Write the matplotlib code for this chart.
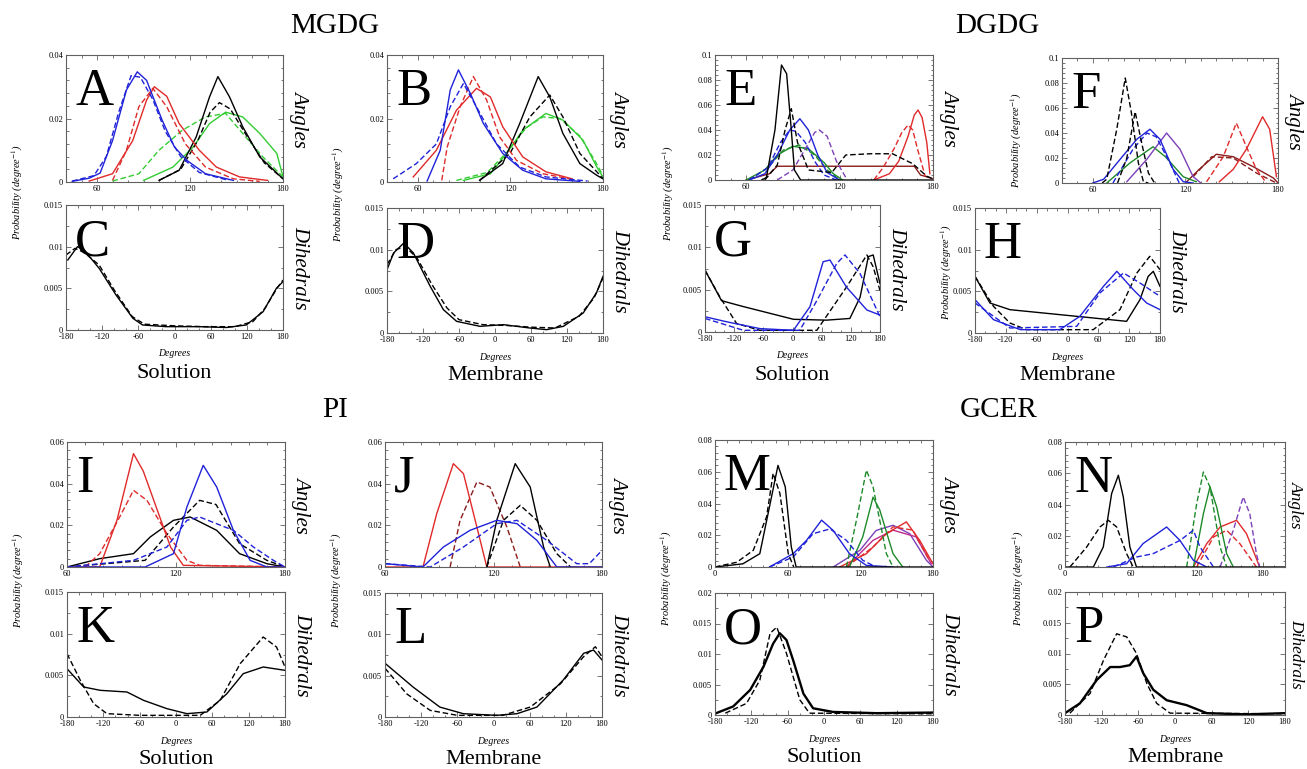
"""
Angle / dihedral probability distributions (MGDG, DGDG, PI, GCER),
solution vs membrane, 16 panels in xmgrace style.
"""
import matplotlib
matplotlib.use("Agg")
import matplotlib.pyplot as plt
from matplotlib.ticker import MultipleLocator, AutoMinorLocator, FuncFormatter

plt.rcParams["font.family"] = ["Liberation Serif", "DejaVu Serif"]
plt.rcParams["mathtext.fontset"] = "stix"

W, H = 1307, 769

BLUE = "#1f22d8"
RED = "#e02a2a"
GREEN = "#33cc33"
DKGREEN = "#1d8a2a"
PURPLE = "#7d40b8"
BROWN = "#8a1c1c"
MAGENTA = "#c02a8a"
BLACK = "black"

# ---------------- data ----------------
# MGDG solution, angles (A)
a_blue_x = [44, 55, 62, 70, 79, 86, 92, 102, 110, 118, 130, 148]
a_blue_y = [0.0002, 0.0012, 0.0028, 0.013, 0.029, 0.0347, 0.032, 0.0195, 0.011, 0.0068, 0.0026, 0.0005]
a_blue_dash_x = [44, 58, 66, 74, 82, 88, 96, 104, 114, 126, 145]
a_blue_dash_y = [0.0003, 0.002, 0.008, 0.022, 0.0335, 0.033, 0.026, 0.016, 0.008, 0.003, 0.0005]
a_red_x = [55, 70, 83, 92, 97, 105, 113, 126, 137, 152, 170]
a_red_y = [0.0003, 0.0026, 0.013, 0.0258, 0.030, 0.027, 0.0184, 0.010, 0.0047, 0.0016, 0.0005]
a_red_dash_x = [70, 79, 87, 96, 105, 117, 130, 148, 165]
a_red_dash_y = [0.0005, 0.010, 0.0237, 0.0295, 0.0237, 0.012, 0.0047, 0.001, 0.0002]
a_black_x = [100, 113, 124, 132.6, 138, 145.5, 154, 165, 180]
a_black_y = [0.0005, 0.0037, 0.0142, 0.0268, 0.0332, 0.0268, 0.0174, 0.0079, 0.001]
a_black_dash_x = [100, 114, 125, 133, 139, 146, 156, 168, 180]
a_black_dash_y = [0.0005, 0.004, 0.013, 0.022, 0.025, 0.023, 0.015, 0.006, 0.001]
a_green_x = [90, 109, 122, 132.6, 143, 154, 165, 176, 180]
a_green_y = [0.0005, 0.0047, 0.011, 0.0184, 0.022, 0.0205, 0.0153, 0.009, 0.0016]
a_green_dash_x = [70, 87, 100, 115, 130, 143, 154, 167, 180]
a_green_dash_y = [0.0003, 0.0026, 0.010, 0.0163, 0.0205, 0.0216, 0.0153, 0.0079, 0.0016]

# MGDG membrane, angles (B)
b_blue_x = [66, 74.5, 81, 86.3, 94, 102.5, 115, 128, 143, 165]
b_blue_y = [0.0003, 0.010, 0.029, 0.0353, 0.0279, 0.0184, 0.009, 0.0037, 0.001, 0.0002]
b_blue_dash_x = [44, 59, 72, 81, 89.5, 98, 111, 126, 143, 170]
b_blue_dash_y = [0.001, 0.0058, 0.012, 0.0237, 0.031, 0.0237, 0.012, 0.0047, 0.0016, 0.0003]
b_red_x = [57, 72, 85, 98, 107, 115, 128, 143, 160]
b_red_y = [0.0016, 0.010, 0.0226, 0.0295, 0.0268, 0.0174, 0.0079, 0.0032, 0.001]
b_red_dash_x = [75.5, 79, 87.4, 96, 104.6, 113, 124, 141, 158.5]
b_red_dash_y = [0.0005, 0.011, 0.0237, 0.0332, 0.0258, 0.0142, 0.0068, 0.0026, 0.001]
b_black_x = [100, 115, 126, 138, 145.5, 154, 165, 176, 180]
b_black_y = [0.0005, 0.0058, 0.0184, 0.0332, 0.0268, 0.0153, 0.0058, 0.0021, 0.001]
b_black_dash_x = [100, 119.7, 132.6, 145.5, 154, 165, 176, 180]
b_black_dash_y = [0.0005, 0.009, 0.0205, 0.0274, 0.0205, 0.009, 0.0032, 0.001]
b_green_x = [89.5, 107, 117.5, 128, 143, 154, 167, 176, 180]
b_green_y = [0.0005, 0.0026, 0.009, 0.0163, 0.0216, 0.0195, 0.0132, 0.0047, 0.0015]
b_green_dash_x = [85, 105, 118, 130, 141, 152, 165, 175, 180]
b_green_dash_y = [0.0005, 0.003, 0.0095, 0.017, 0.0205, 0.020, 0.0145, 0.0065, 0.002]

# MGDG dihedrals (C, D)
c_black_x = [-177, -161, -150, -125, -97, -69, -53, -14, 41, 86, 119, 147, 169, 180]
c_black_y = [0.0084, 0.0100, 0.0096, 0.0074, 0.0042, 0.0014, 0.0006, 0.0004, 0.0004, 0.0003, 0.0006, 0.0022, 0.0050, 0.0058]
c_black_dash_x = [-180, -165, -150, -125, -100, -70, -50, 0, 50, 100, 130, 150, 170, 180]
c_black_dash_y = [0.0090, 0.0098, 0.0093, 0.0078, 0.0048, 0.0016, 0.0007, 0.0005, 0.0004, 0.0004, 0.0010, 0.0026, 0.0050, 0.0060]
d_black_x = [-180, -169, -152, -136, -108, -86, -64, -25, 14, 58, 86, 114, 147, 169, 180]
d_black_y = [0.0076, 0.0096, 0.0108, 0.0096, 0.0056, 0.0028, 0.0014, 0.0008, 0.0010, 0.0006, 0.0004, 0.0008, 0.0024, 0.0048, 0.0068]
d_black_dash_x = [-180, -165, -150, -130, -105, -80, -60, -20, 20, 60, 100, 140, 165, 180]
d_black_dash_y = [0.0082, 0.0100, 0.0104, 0.0090, 0.0058, 0.0030, 0.0016, 0.0010, 0.0009, 0.0007, 0.0006, 0.0020, 0.0042, 0.0066]

# DGDG solution, angles (E)
e_black_x = [70, 73, 78.5, 82.7, 86, 89, 91, 95, 180]
e_black_y = [0, 0.002, 0.04, 0.092, 0.085, 0.04, 0.008, 0, 0]
e_black_dash_x = [72, 80, 85, 89, 93, 100, 115, 124, 140, 154, 167, 176, 180]
e_black_dash_y = [0, 0.012, 0.04, 0.057, 0.03, 0.008, 0.006, 0.02, 0.021, 0.021, 0.013, 0.003, 0.001]
e_brown_x = [60, 75, 80, 100, 140, 168, 172, 180]
e_brown_y = [0, 0.005, 0.011, 0.011, 0.011, 0.011, 0.004, 0.001]
e_blue_x = [62, 72, 80, 88, 94.5, 100, 106, 112, 120]
e_blue_y = [0, 0.005, 0.02, 0.04, 0.049, 0.04, 0.02, 0.006, 0]
e_blue_dash_x = [62, 74, 82, 88, 92, 98, 104, 110, 118]
e_blue_dash_y = [0, 0.01, 0.03, 0.04, 0.039, 0.03, 0.015, 0.004, 0]
e_green_x = [60, 72, 80, 90, 100, 110, 116, 122]
e_green_y = [0, 0.008, 0.02, 0.027, 0.025, 0.014, 0.005, 0]
e_green_dash_x = [62, 74, 84, 94, 104, 112, 120]
e_green_dash_y = [0, 0.01, 0.024, 0.028, 0.02, 0.008, 0]
e_purple_x = [80, 90, 98, 104, 107, 112, 118, 124]
e_purple_y = [0, 0.008, 0.025, 0.038, 0.040, 0.035, 0.015, 0.002]
e_red_x = [142, 152, 158, 164, 168, 170.4, 173, 176, 178]
e_red_y = [0, 0.005, 0.015, 0.035, 0.052, 0.056, 0.05, 0.03, 0.005]
e_red_dash_x = [142, 148, 155, 160, 164, 167, 170, 175]
e_red_dash_y = [0, 0.01, 0.025, 0.038, 0.044, 0.04, 0.025, 0.003]

# DGDG membrane, angles (F)
f_black_dash_x = [66, 69, 75.5, 81, 85, 89.5, 92.8, 96]
f_black_dash_y = [0, 0.003, 0.043, 0.084, 0.056, 0.016, 0.001, 0]
f_black2_dash_x = [76, 82, 87.4, 92, 96, 100]
f_black2_dash_y = [0, 0.02, 0.057, 0.03, 0.008, 0]
f_blue_x = [60, 67, 77.7, 88.5, 97, 103.5, 112, 118.6, 125]
f_blue_y = [0, 0.003, 0.019, 0.035, 0.043, 0.035, 0.011, 0.001, 0]
f_blue_dash_x = [73, 86, 95, 101, 110, 116]
f_blue_dash_y = [0, 0.027, 0.040, 0.037, 0.016, 0]
f_purple_x = [82, 95, 107.8, 116.5, 125, 130]
f_purple_y = [0.001, 0.019, 0.040, 0.027, 0.005, 0]
f_green_x = [69, 84, 99, 107, 118.6, 127]
f_green_y = [0, 0.016, 0.029, 0.021, 0.005, 0.001]
f_brown_x = [120.8, 129, 140, 151, 164, 177, 180]
f_brown_y = [0.001, 0.011, 0.023, 0.021, 0.013, 0.004, 0]
f_brown_dash_x = [125, 137, 151, 166, 179]
f_brown_dash_y = [0.005, 0.021, 0.020, 0.008, 0]
f_red_x = [142, 151, 159.5, 170, 174.6, 179]
f_red_y = [0.001, 0.011, 0.027, 0.053, 0.043, 0.005]
f_red_dash_x = [133.7, 144.5, 153, 159.5, 166, 172.5]
f_red_dash_y = [0.001, 0.021, 0.048, 0.029, 0.011, 0]

# DGDG dihedrals (G, H)
g_black_x = [-180, -146, -101, -46, 2, 70, 118, 139, 156, 166, 180]
g_black_y = [0.0073, 0.0037, 0.0030, 0.0022, 0.0015, 0.0014, 0.0016, 0.0041, 0.0089, 0.0091, 0.0057]
g_black_dash_x = [-180, -149, -115, -67, 50, 111, 153, 166, 180]
g_black_dash_y = [0.0073, 0.0041, 0.0010, 0.0002, 0.0002, 0.0053, 0.0091, 0.0077, 0.0049]
g_blue_x = [-180, -135, -67, 2, 36, 63, 77, 111, 153, 180]
g_blue_y = [0.0018, 0.0012, 0.0004, 0.0002, 0.0030, 0.0083, 0.0085, 0.0053, 0.0026, 0.0020]
g_blue_dash_x = [-180, -101, 15, 50, 91, 108, 139, 180]
g_blue_dash_y = [0.0016, 0.0002, 0.0002, 0.0037, 0.0081, 0.0091, 0.0069, 0.0018]
h_black_x = [-180, -151, -112, -47, 18, 83, 115, 141, 157, 167, 180]
h_black_y = [0.0068, 0.0036, 0.0028, 0.0024, 0.0020, 0.0016, 0.0014, 0.0040, 0.0068, 0.0074, 0.0056]
h_black_dash_x = [-180, -144, -112, -80, 50, 102, 135, 160, 180]
h_black_dash_y = [0.0068, 0.0032, 0.0012, 0.0004, 0.0004, 0.0028, 0.0072, 0.0092, 0.0076]
h_blue_x = [-180, -144, -92, -15, 24, 70, 96, 128, 154, 180]
h_blue_y = [0.0040, 0.0016, 0.0004, 0.0004, 0.0020, 0.0056, 0.0074, 0.0052, 0.0036, 0.0028]
h_blue_dash_x = [-180, -112, 18, 63, 109, 141, 180]
h_blue_dash_y = [0.0036, 0.0006, 0.0008, 0.0048, 0.0072, 0.0060, 0.0044]

# PI angles (I, J)
i_red_x = [60, 78, 87.5, 96.6, 102, 109, 117, 124, 180]
i_red_y = [0, 0, 0.0224, 0.0544, 0.046, 0.029, 0.0096, 0.0008, 0]
i_red_dash_x = [70, 78, 89, 96.6, 104, 115, 126, 133, 180]
i_red_dash_y = [0, 0.0064, 0.024, 0.0368, 0.032, 0.016, 0.0032, 0.0008, 0]
i_blue_x = [60, 103, 118.6, 126, 135, 142.4, 151.6, 160.8, 170, 180]
i_blue_y = [0, 0, 0.0064, 0.0288, 0.0488, 0.0384, 0.0176, 0.0032, 0, 0]
i_blue_dash_x = [60, 96.6, 115, 126, 133, 151.6, 162.6, 173.6, 180]
i_blue_dash_y = [0, 0.0032, 0.0096, 0.0224, 0.024, 0.0176, 0.0096, 0.0032, 0]
i_black_x = [60, 78, 96.6, 105.8, 118.6, 127.8, 142.4, 155, 170, 180]
i_black_y = [0, 0.004, 0.0064, 0.0144, 0.0224, 0.024, 0.0176, 0.0064, 0.0016, 0]
i_black_dash_x = [60, 103, 118.6, 133, 142, 155, 170, 180]
i_black_dash_y = [0, 0.0032, 0.0192, 0.032, 0.030, 0.0112, 0.0032, 0]
j_red_x = [60, 81, 88.6, 97.8, 103.4, 110.8, 116.3, 180]
j_red_y = [0, 0, 0.0256, 0.0496, 0.0448, 0.0192, 0, 0]
j_brown_dash_x = [96, 101.5, 110.8, 118, 127.4, 134.8]
j_brown_dash_y = [0, 0.0224, 0.0408, 0.0384, 0.0192, 0]
j_black_x = [116.3, 121.8, 132, 140.3, 147.7, 151.4]
j_black_y = [0, 0.0224, 0.0496, 0.0384, 0.0096, 0]
j_black_dash_x = [116.3, 125.5, 134.8, 144, 155, 162.6]
j_black_dash_y = [0, 0.0224, 0.0296, 0.0224, 0.0064, 0]
j_blue_x = [60, 81, 92.3, 107, 121.8, 133, 144, 155, 180]
j_blue_y = [0.0016, 0, 0.0096, 0.0176, 0.0224, 0.0208, 0.0128, 0, 0]
j_blue_dash_x = [60, 85, 103.4, 121.8, 133, 149.5, 166, 173, 180]
j_blue_dash_y = [0.0016, 0, 0.0096, 0.0208, 0.0224, 0.0128, 0.0016, 0.0016, 0.008]

# PI dihedrals (K, L)
k_black_x = [-180, -152.5, -125, -81, -53.6, -15, 18, 51, 84, 111, 144, 180]
k_black_y = [0.0058, 0.0036, 0.0032, 0.0030, 0.0020, 0.0010, 0.0004, 0.0006, 0.0028, 0.0052, 0.0060, 0.0056]
k_black_dash_x = [-180, -158, -136, -114, -60, 40, 73, 106, 144, 166, 180]
k_black_dash_y = [0.0076, 0.0044, 0.0016, 0.0004, 0.0002, 0.0002, 0.0020, 0.0064, 0.0096, 0.0084, 0.0060]
l_black_x = [-180, -133, -89, -50, 5.5, 39, 72, 116, 149.5, 166, 180]
l_black_y = [0.0065, 0.0036, 0.0012, 0.0004, 0.0002, 0.0004, 0.0012, 0.0045, 0.0077, 0.0081, 0.0069]
l_black_dash_x = [-180, -144, -105, -60, 15, 61, 111, 149.5, 169, 180]
l_black_dash_y = [0.0059, 0.0028, 0.0008, 0.0002, 0.0002, 0.0012, 0.0040, 0.0073, 0.0085, 0.0073]

# GCER angles (M, N)
m_black_x = [0, 23, 37, 45, 52, 58, 63, 67, 180]
m_black_y = [0, 0.002, 0.0084, 0.038, 0.064, 0.0505, 0.0126, 0, 0]
m_black_dash_x = [0, 18, 31.6, 42.6, 48, 53.6, 60.5, 65]
m_black_dash_y = [0, 0.003, 0.0105, 0.0316, 0.059, 0.0463, 0.0084, 0]
m_blue_x = [45, 64.6, 75.6, 88, 97.6, 111, 125, 147]
m_blue_y = [0, 0.0084, 0.0168, 0.0295, 0.023, 0.0084, 0.001, 0]
m_blue_dash_x = [45, 64.6, 81, 95, 108.5, 122, 133]
m_blue_dash_y = [0, 0.0063, 0.021, 0.024, 0.0168, 0.0042, 0]
m_green_dash_x = [108.5, 116.8, 125, 130.5, 141.5, 147]
m_green_dash_y = [0, 0.0295, 0.061, 0.0505, 0.0084, 0]
m_green_x = [111, 122, 130.5, 136, 147, 155]
m_green_y = [0, 0.019, 0.044, 0.036, 0.0084, 0]
m_purple_x = [97.6, 119.6, 133, 147, 160.8, 174.6, 180]
m_purple_y = [0, 0.0105, 0.023, 0.0263, 0.021, 0.0042, 0]
m_red_x = [103, 125, 141.5, 158, 169, 180]
m_red_y = [0, 0.0084, 0.021, 0.0284, 0.0168, 0.002]
m_red_dash_x = [108.5, 130.5, 147, 163.3, 177]
m_red_dash_y = [0, 0.0126, 0.0253, 0.0232, 0.0042]
m_magenta_x = [108.5, 130.5, 147, 166, 178.6]
m_magenta_y = [0, 0.0168, 0.0232, 0.019, 0.0021]
n_black_x = [0, 25.8, 34.8, 42.4, 48.5, 53, 59, 65, 200]
n_black_y = [0, 0, 0.0128, 0.047, 0.0587, 0.0448, 0.0128, 0, 0]
n_black_dash_x = [4.5, 19.7, 31.8, 39.4, 47, 56, 62]
n_black_dash_y = [0, 0.0128, 0.0256, 0.0299, 0.0256, 0.0085, 0]
n_blue_x = [38, 56, 71, 92.4, 104.5, 116.7, 128.8]
n_blue_y = [0, 0.0021, 0.015, 0.0256, 0.017, 0.0043, 0]
n_blue_dash_x = [44, 65, 80, 104.5, 116.7, 122.7, 135]
n_blue_dash_y = [0, 0.0064, 0.0085, 0.017, 0.0235, 0.0128, 0]
n_green_dash_x = [110.6, 119.7, 125.8, 131.8, 141, 147]
n_green_dash_y = [0, 0.0405, 0.0608, 0.0512, 0.0128, 0]
n_green_x = [116.7, 125.8, 131.8, 137.9, 147, 153]
n_green_y = [0, 0.0341, 0.0512, 0.0384, 0.0085, 0]
n_purple_dash_x = [141, 153, 162, 168, 174, 177]
n_purple_dash_y = [0, 0.0235, 0.0448, 0.034, 0.0085, 0]
n_red_x = [116.7, 128.8, 141, 156, 165, 177]
n_red_y = [0, 0.0149, 0.0256, 0.0299, 0.0213, 0]
n_red_dash_x = [119.7, 135, 147, 159, 174]
n_red_dash_y = [0, 0.0192, 0.0235, 0.0149, 0]

# GCER dihedrals (O, P)
o_black_x = [-178, -150, -122, -100, -84, -73, -62, -51, -34, -18, 15, 87, 180]
o_black_y = [0.0003, 0.0014, 0.0041, 0.0079, 0.0117, 0.0134, 0.0123, 0.0090, 0.0035, 0.0011, 0.0005, 0.0003, 0.0004]
o_black_dash_x = [-163, -128, -106, -89, -78, -62, -40, -24, 180]
o_black_dash_y = [0.0003, 0.0019, 0.0057, 0.0134, 0.0144, 0.0101, 0.0025, 0.0003, 0.0002]
p_black_x = [-180, -155.5, -128, -106, -90, -74, -63, -52, -35.5, -13.6, 19, 52, 117, 180]
p_black_y = [0.0003, 0.0019, 0.0057, 0.0078, 0.0078, 0.0081, 0.0095, 0.0068, 0.0041, 0.0024, 0.0016, 0.0003, 0.0001, 0.0003]
p_black_dash_x = [-172, -139, -117, -95.5, -79, -63, -46, -30, -8, 180]
p_black_dash_y = [0.0003, 0.0035, 0.0089, 0.0132, 0.0127, 0.0100, 0.0051, 0.0019, 0.0003, 0.0002]

# ---------------- panel layout (pixel boxes: left, top, right, bottom) ----------------
panels = [
    dict(letter="A", box=(66, 55, 283, 182), xlim=(40, 180), ylim=(0, 0.04), ystep=0.02, kind="Angles",
         curves=[(a_green_dash_x, a_green_dash_y, GREEN, True), (a_green_x, a_green_y, GREEN, False),
                 (a_black_dash_x, a_black_dash_y, BLACK, True), (a_black_x, a_black_y, BLACK, False),
                 (a_red_dash_x, a_red_dash_y, RED, True), (a_red_x, a_red_y, RED, False),
                 (a_blue_dash_x, a_blue_dash_y, BLUE, True), (a_blue_x, a_blue_y, BLUE, False)]),
    dict(letter="B", box=(387, 55, 603, 182), xlim=(40, 180), ylim=(0, 0.04), ystep=0.02, kind="Angles",
         curves=[(b_green_dash_x, b_green_dash_y, GREEN, True), (b_green_x, b_green_y, GREEN, False),
                 (b_black_dash_x, b_black_dash_y, BLACK, True), (b_black_x, b_black_y, BLACK, False),
                 (b_red_dash_x, b_red_dash_y, RED, True), (b_red_x, b_red_y, RED, False),
                 (b_blue_dash_x, b_blue_dash_y, BLUE, True), (b_blue_x, b_blue_y, BLUE, False)]),
    dict(letter="C", box=(66, 205, 283, 330), xlim=(-180, 180), ylim=(0, 0.015), ystep=0.005, kind="Dihedrals",
         curves=[(c_black_dash_x, c_black_dash_y, BLACK, True), (c_black_x, c_black_y, BLACK, False)]),
    dict(letter="D", box=(387, 208, 603, 333), xlim=(-180, 180), ylim=(0, 0.015), ystep=0.005, kind="Dihedrals",
         curves=[(d_black_dash_x, d_black_dash_y, BLACK, True), (d_black_x, d_black_y, BLACK, False)]),
    dict(letter="E", box=(715, 55, 933, 180), xlim=(40, 180), ylim=(0, 0.1), ystep=0.02, kind="Angles",
         curves=[(e_brown_x, e_brown_y, BROWN, False), (e_green_dash_x, e_green_dash_y, DKGREEN, True),
                 (e_green_x, e_green_y, DKGREEN, False), (e_purple_x, e_purple_y, PURPLE, True),
                 (e_blue_dash_x, e_blue_dash_y, BLUE, True), (e_blue_x, e_blue_y, BLUE, False),
                 (e_red_dash_x, e_red_dash_y, RED, True), (e_red_x, e_red_y, RED, False),
                 (e_black_dash_x, e_black_dash_y, BLACK, True), (e_black_x, e_black_y, BLACK, False)]),
    dict(letter="F", box=(1062, 58, 1278, 183), xlim=(40, 180), ylim=(0, 0.1), ystep=0.02, kind="Angles",
         curves=[(f_brown_dash_x, f_brown_dash_y, BROWN, True), (f_brown_x, f_brown_y, BROWN, False),
                 (f_green_x, f_green_y, DKGREEN, False), (f_purple_x, f_purple_y, PURPLE, False),
                 (f_blue_dash_x, f_blue_dash_y, BLUE, True), (f_blue_x, f_blue_y, BLUE, False),
                 (f_red_dash_x, f_red_dash_y, RED, True), (f_red_x, f_red_y, RED, False),
                 (f_black2_dash_x, f_black2_dash_y, BLACK, True), (f_black_dash_x, f_black_dash_y, BLACK, True)]),
    dict(letter="G", box=(705, 205, 880, 332), xlim=(-180, 180), ylim=(0, 0.015), ystep=0.005, kind="Dihedrals",
         curves=[(g_black_dash_x, g_black_dash_y, BLACK, True), (g_black_x, g_black_y, BLACK, False),
                 (g_blue_dash_x, g_blue_dash_y, BLUE, True), (g_blue_x, g_blue_y, BLUE, False)]),
    dict(letter="H", box=(975, 208, 1160, 333), xlim=(-180, 180), ylim=(0, 0.015), ystep=0.005, kind="Dihedrals",
         curves=[(h_black_dash_x, h_black_dash_y, BLACK, True), (h_black_x, h_black_y, BLACK, False),
                 (h_blue_dash_x, h_blue_dash_y, BLUE, True), (h_blue_x, h_blue_y, BLUE, False)]),
    dict(letter="I", box=(67, 442, 285, 567), xlim=(60, 180), ylim=(0, 0.06), ystep=0.02, kind="Angles",
         curves=[(i_black_dash_x, i_black_dash_y, BLACK, True), (i_black_x, i_black_y, BLACK, False),
                 (i_red_dash_x, i_red_dash_y, RED, True), (i_red_x, i_red_y, RED, False),
                 (i_blue_dash_x, i_blue_dash_y, BLUE, True), (i_blue_x, i_blue_y, BLUE, False)]),
    dict(letter="J", box=(385, 442, 602, 567), xlim=(60, 180), ylim=(0, 0.06), ystep=0.02, kind="Angles",
         curves=[(j_brown_dash_x, j_brown_dash_y, BROWN, True), (j_red_x, j_red_y, RED, False),
                 (j_black_dash_x, j_black_dash_y, BLACK, True), (j_black_x, j_black_y, BLACK, False),
                 (j_blue_dash_x, j_blue_dash_y, BLUE, True), (j_blue_x, j_blue_y, BLUE, False)]),
    dict(letter="K", box=(67, 592, 285, 717), xlim=(-180, 180), ylim=(0, 0.015), ystep=0.005, kind="Dihedrals",
         curves=[(k_black_dash_x, k_black_dash_y, BLACK, True), (k_black_x, k_black_y, BLACK, False)]),
    dict(letter="L", box=(385, 593, 602, 717), xlim=(-180, 180), ylim=(0, 0.015), ystep=0.005, kind="Dihedrals",
         curves=[(l_black_dash_x, l_black_dash_y, BLACK, True), (l_black_x, l_black_y, BLACK, False)]),
    dict(letter="M", box=(715, 440, 933, 567), xlim=(0, 180), ylim=(0, 0.08), ystep=0.02, kind="Angles",
         curves=[(m_purple_x, m_purple_y, PURPLE, False), (m_magenta_x, m_magenta_y, MAGENTA, False),
                 (m_red_dash_x, m_red_dash_y, RED, True), (m_red_x, m_red_y, RED, False),
                 (m_green_x, m_green_y, DKGREEN, False), (m_green_dash_x, m_green_dash_y, DKGREEN, True),
                 (m_blue_dash_x, m_blue_dash_y, BLUE, True), (m_blue_x, m_blue_y, BLUE, False),
                 (m_black_dash_x, m_black_dash_y, BLACK, True), (m_black_x, m_black_y, BLACK, False)]),
    dict(letter="N", box=(1065, 442, 1285, 567), xlim=(0, 200), ylim=(0, 0.08), ystep=0.02, kind="Angles",
         curves=[(n_red_dash_x, n_red_dash_y, RED, True), (n_red_x, n_red_y, RED, False),
                 (n_purple_dash_x, n_purple_dash_y, PURPLE, True),
                 (n_green_x, n_green_y, DKGREEN, False), (n_green_dash_x, n_green_dash_y, DKGREEN, True),
                 (n_blue_dash_x, n_blue_dash_y, BLUE, True), (n_blue_x, n_blue_y, BLUE, False),
                 (n_black_dash_x, n_black_dash_y, BLACK, True), (n_black_x, n_black_y, BLACK, False)]),
    dict(letter="O", box=(715, 593, 933, 715), xlim=(-180, 180), ylim=(0, 0.02), ystep=0.005, kind="Dihedrals",
         curves=[(o_black_dash_x, o_black_dash_y, BLACK, True), (o_black_x, o_black_y, BLACK, False)]),
    dict(letter="P", box=(1065, 592, 1285, 715), xlim=(-180, 180), ylim=(0, 0.02), ystep=0.005, kind="Dihedrals",
         curves=[(p_black_dash_x, p_black_dash_y, BLACK, True), (p_black_x, p_black_y, BLACK, False)]),
]

titles = [("MGDG", 335, 26), ("DGDG", 997, 26), ("PI", 335, 410), ("GCER", 999, 410)]
conditions = [("Solution", "C"), ("Membrane", "D"), ("Solution", "G"), ("Membrane", "H"),
              ("Solution", "K"), ("Membrane", "L"), ("Solution", "O"), ("Membrane", "P")]
# y-axis label positions (pixel centre x, y) for each column / panel
ylabel_spots = [(17, 192), (338, 194), (668, 193), (1016, 140), (946, 272),
                (18, 580), (336, 580), (666, 578), (1018, 578)]


def fx(px):
    return px / W


def fy(py):
    return 1 - py / H


fig = plt.figure(figsize=(W / 100, H / 100), dpi=100)
FRAME = "#606060"
fmt = FuncFormatter(lambda v, pos: f"{v:g}")
by_letter = {}

for p in panels:
    x0, y0, x1, y1 = p["box"]
    ax = fig.add_axes([fx(x0), fy(y1), (x1 - x0) / W, (y1 - y0) / H])
    by_letter[p["letter"]] = p
    for xs, ys, col, dashed in p["curves"]:
        heavy = p["letter"] in "OP" and not dashed
        ax.plot(xs, ys, color=col, lw=1.7 if heavy else 1.0,
                ls=(0, (4, 2)) if dashed else "-")
    ax.set_xlim(*p["xlim"])
    ax.set_ylim(*p["ylim"])
    ax.xaxis.set_major_locator(MultipleLocator(60))
    ax.xaxis.set_minor_locator(MultipleLocator(10 if p["kind"] == "Angles" else 20))
    ax.yaxis.set_major_locator(MultipleLocator(p["ystep"]))
    ax.yaxis.set_minor_locator(AutoMinorLocator(5 if p["ystep"] == 0.02 else 2))
    ax.xaxis.set_major_formatter(fmt)
    ax.yaxis.set_major_formatter(fmt)
    ax.tick_params(which="both", direction="in", top=True, right=True, color=FRAME,
                   labelsize=6, pad=2, width=0.6)
    ax.tick_params(which="major", length=3.5)
    ax.tick_params(which="minor", length=1.8)
    for s in ax.spines.values():
        s.set_color(FRAME)
        s.set_linewidth(0.8)
    # big panel letter
    fig.text(fx(x0 + 9), fy(y0 + 50), p["letter"], fontsize=38, va="baseline", ha="left")
    # right-hand label (last column sits against the figure edge)
    edge = x1 > 1280
    fig.text(fx(x1 + (11 if edge else 17)), fy((y0 + y1) / 2), p["kind"], rotation=270,
             style="italic", fontsize=12.5 if edge else 15, ha="center", va="center")
    if p["kind"] == "Dihedrals":
        fig.text(fx((x0 + x1) / 2), fy(y1 + 24), "Degrees", style="italic", fontsize=7,
                 ha="center", va="center")

for cx, cy in ylabel_spots:
    fig.text(fx(cx), fy(cy), "Probability (degree$^{-1}$)",
             rotation=90, style="italic", fontsize=7.5, ha="center", va="center")

for label, letter in conditions:
    b = by_letter[letter]["box"]
    fig.text(fx((b[0] + b[2]) / 2), fy(b[3] + 43), label, fontsize=16, ha="center", va="center")

for name, cx, cy in titles:
    fig.text(fx(cx), fy(cy), name, fontsize=21, ha="center", va="center")

fig.savefig("out.png", dpi=100)
